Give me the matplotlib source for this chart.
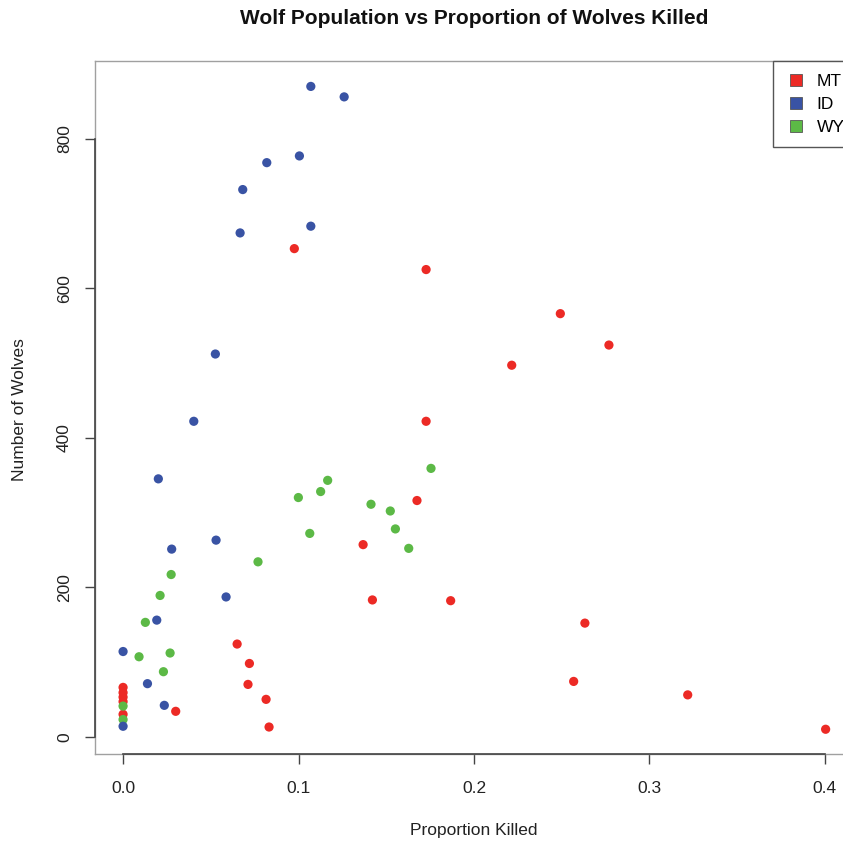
import matplotlib
matplotlib.use('Agg')
import matplotlib.pyplot as plt
from matplotlib.lines import Line2D

plt.rcParams['font.family'] = ['Liberation Sans', 'DejaVu Sans']

# ---- data ----
states = ['MT', 'ID', 'WY']

mt_prop = [0.0976, 0.1727, 0.1727, 0.2492, 0.2769, 0.2215, 0.1675, 0.1368,
           0.1421, 0.1867, 0.2632, 0.2568, 0.3218, 0.4004, 0.0650, 0.0720,
           0.0712, 0.0815, 0.0832, 0.0300, 0.0, 0.0, 0.0, 0.0, 0.0]
mt_wolves = [653, 625, 422, 566, 524, 497, 316, 257,
             183, 182, 152, 74, 56, 10, 124, 98,
             70, 50, 13, 34, 66, 59, 53, 47, 30]

id_prop = [0.107, 0.126, 0.1005, 0.0819, 0.0682, 0.107, 0.0667, 0.0526,
           0.0403, 0.0201, 0.053, 0.0277, 0.0587, 0.0192, 0.0, 0.0139,
           0.0235, 0.0]
id_wolves = [870, 856, 777, 768, 732, 683, 674, 512,
             422, 345, 263, 251, 187, 156, 114, 71,
             42, 14]

wy_prop = [0.1166, 0.1126, 0.0999, 0.1064, 0.0769, 0.0274, 0.0211, 0.1755,
           0.1413, 0.1523, 0.1552, 0.1628, 0.0127, 0.0091, 0.0268, 0.0230,
           0.0, 0.0]
wy_wolves = [343, 328, 320, 272, 234, 217, 189, 359,
             311, 302, 278, 252, 153, 107, 112, 87,
             41, 23]

x_ticks = [0.0, 0.1, 0.2, 0.3, 0.4]
x_ticklabels = ['0.0', '0.1', '0.2', '0.3', '0.4']
y_ticks = [0, 200, 400, 600, 800]
y_ticklabels = ['0', '200', '400', '600', '800']

RED = '#EC2A25'
BLUE = '#3953A4'
GREEN = '#5CB946'

W, H = 843, 844
fig = plt.figure(figsize=(W / 100, H / 100), dpi=100)
fig.patch.set_facecolor('white')

ax = fig.add_axes([95 / W, (H - 754.3) / H, (853 - 95) / W, (754.3 - 61) / H])

ms = 44
ax.scatter(mt_prop, mt_wolves, s=ms, c=RED, edgecolors='none', zorder=3)
ax.scatter(wy_prop, wy_wolves, s=ms, c=GREEN, edgecolors='none', zorder=3)
ax.scatter(id_prop, id_wolves, s=ms, c=BLUE, edgecolors='none', zorder=3)

ax.set_xlim(-0.016, 0.416)
ax.set_ylim(-23.5, 904)

ax.set_xticks(x_ticks)
ax.set_xticklabels(x_ticklabels)
ax.set_yticks(y_ticks)
ax.set_yticklabels(y_ticklabels, rotation=90, va='center')

for sp in ax.spines.values():
    sp.set_color('#a0a0a0')
    sp.set_linewidth(1.0)

ax.tick_params(axis='both', direction='out', length=7.5, width=1.0,
               color='#444444', labelsize=12.5, labelcolor='#222222')
ax.tick_params(axis='x', pad=12)
ax.tick_params(axis='y', pad=9)

# R-style axis lines spanning first to last tick
ax.plot([x_ticks[0], x_ticks[-1]], [0, 0], transform=ax.get_xaxis_transform(),
        color='#444444', lw=1.2, clip_on=False, zorder=4)
ax.plot([0, 0], [y_ticks[0], y_ticks[-1]], transform=ax.get_yaxis_transform(),
        color='#444444', lw=1.2, clip_on=False, zorder=4)

fig.text(474 / W, 1 - 19 / H, 'Wolf Population vs Proportion of Wolves Killed',
         ha='center', va='center', fontsize=15, fontweight='bold', color='#111111')
fig.text(474 / W, 1 - 831 / H, 'Proportion Killed', ha='center', va='center',
         fontsize=12.5, color='#222222')
fig.text(20 / W, 1 - 410 / H, 'Number of Wolves', ha='center', va='center',
         rotation=90, fontsize=12.5, color='#222222')

handles = [Line2D([0], [0], marker='s', linestyle='none', markersize=8.5,
                  markerfacecolor=c, markeredgecolor='#555555', markeredgewidth=0.6)
           for c in (RED, BLUE, GREEN)]
leg = ax.legend(handles, states, loc='upper right', bbox_to_anchor=(1 + 4 / 758, 1),
                bbox_transform=ax.transAxes, borderaxespad=0, fancybox=False,
                edgecolor='#555555', framealpha=1, fontsize=12.5,
                handlelength=1.2, handletextpad=0.6, labelspacing=0.45,
                borderpad=0.72)
leg.get_frame().set_linewidth(1.0)

fig.savefig('out.png', dpi=100, facecolor='white')
